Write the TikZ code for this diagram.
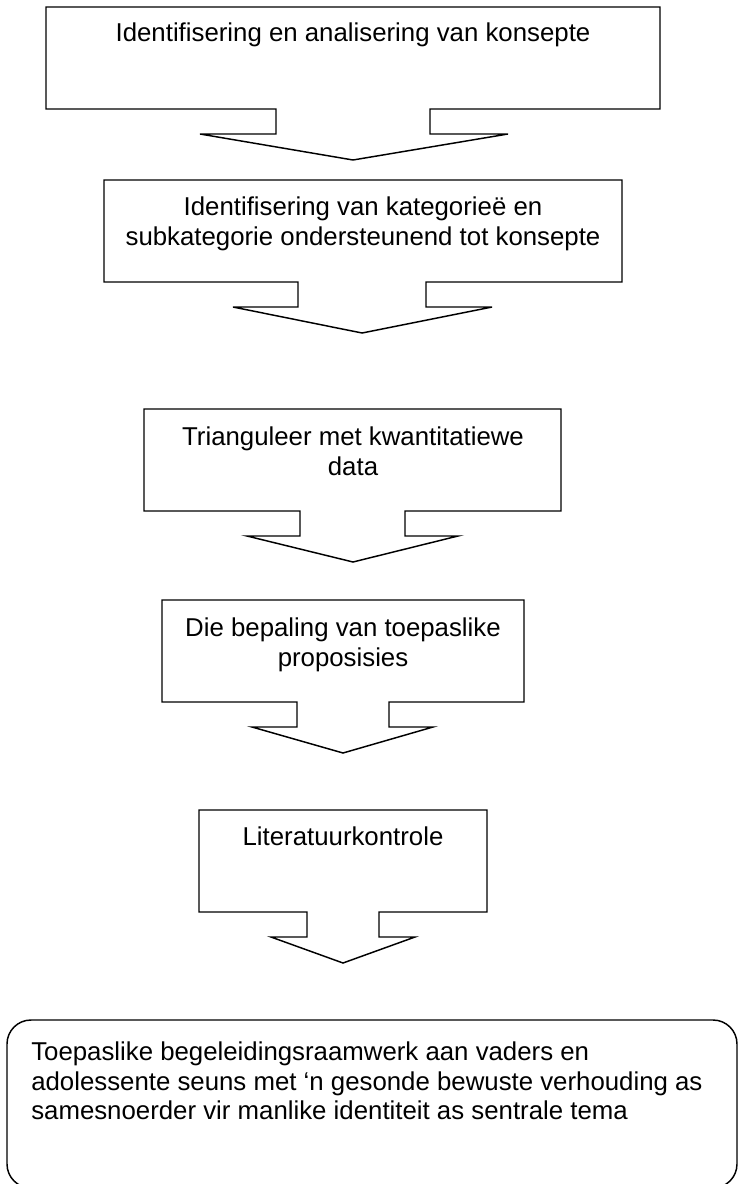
\documentclass[tikz,border=0pt]{standalone}
\usepackage{fontspec}
\setmainfont{Liberation Sans}

\begin{document}
\begin{tikzpicture}[x=0.75pt,y=0.75pt,yscale=-1,
	vorm/.style={line width=1.1pt, line join=miter, fill=white},
	teks/.style={inner sep=0.75pt, font=\fontsize{19.35}{22.1}\selectfont}]
			\useasboundingbox (0,0) rectangle (742,1184);
			
			%Shape: Down Arrow Callout [konsepte]
			\draw [vorm] (46,7) -- (660,7) -- (660,109) -- (430,109) -- (430,134) -- (508,134) -- (353,160) -- (200,134) -- (276,134) -- (276,109) -- (46,109) -- cycle ;
			%Shape: Down Arrow Callout [kategoriee]
			\draw [vorm] (104,180) -- (622,180) -- (622,282) -- (426,282) -- (426,307) -- (492,307) -- (362,333) -- (233,307) -- (298,307) -- (298,282) -- (104,282) -- cycle ;
			%Shape: Down Arrow Callout [trianguleer]
			\draw [vorm] (144,409) -- (561,409) -- (561,511) -- (405,511) -- (405,536) -- (458,536) -- (353,562) -- (247,536) -- (300,536) -- (300,511) -- (144,511) -- cycle ;
			%Shape: Down Arrow Callout [proposisies]
			\draw [vorm] (162,600) -- (524,600) -- (524,702) -- (389,702) -- (389,727) -- (433,727) -- (343,753) -- (252,727) -- (297,727) -- (297,702) -- (162,702) -- cycle ;
			%Shape: Down Arrow Callout [literatuur]
			\draw [vorm] (199,810) -- (487,810) -- (487,912) -- (379,912) -- (379,937) -- (415,937) -- (343,963) -- (271,937) -- (307,937) -- (307,912) -- (199,912) -- cycle ;
			%Shape: Rounded Rect [raamwerk]
			\draw [vorm, rounded corners=18] (7,1020) rectangle (737,1188) ;
			
			% Text Node
			\draw (353,22) node (konsepte) [anchor=north][teks] {Identifisering en analisering van konsepte};
			% Text Node
			\draw (363,196) node (kategoriee) [anchor=north][teks][align=center] {Identifisering van kategorieë en\\subkategorie ondersteunend tot konsepte};
			% Text Node
			\draw (353,426) node (trianguleer) [anchor=north][teks][align=center] {Trianguleer met kwantitatiewe\\data};
			% Text Node
			\draw (343,617) node (proposisies) [anchor=north][teks][align=center] {Die bepaling van toepaslike\\proposisies};
			% Text Node
			\draw (343,826) node (literatuur) [anchor=north][teks] {Literatuurkontrole};
			% Text Node
			\draw (30,1041) node (raamwerk) [anchor=north west][teks][align=left] {Toepaslike begeleidingsraamwerk aan vaders en\\adolessente seuns met ‘n gesonde bewuste verhouding as\\samesnoerder vir manlike identiteit as sentrale tema};
			
		\end{tikzpicture}
\end{document}
